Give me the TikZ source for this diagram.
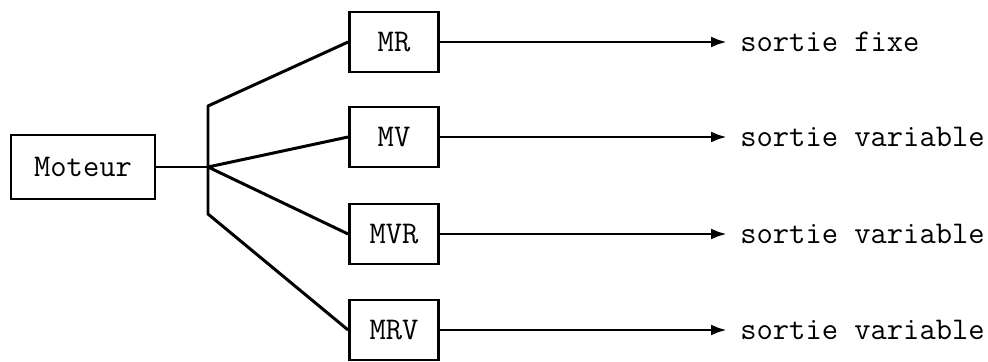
\documentclass[tikz,border=0pt]{standalone}
\usepackage{tikz}
\usetikzlibrary{positioning, arrows.meta}

\begin{document}
\begin{tikzpicture}[x=0.02cm, y=-0.02cm,
    bloc/.style={draw, line width=1.6pt, font=\fontsize{18}{21}\selectfont\ttfamily,
      minimum width=1.78cm, minimum height=1.2cm, inner sep=0pt},
    sortie/.style={anchor=west, font=\fontsize{18}{21}\selectfont\ttfamily, inner sep=0.26cm},
    trait/.style={line width=1.7pt, line join=round},
    fleche/.style={trait, -{Latex[length=3.2mm,width=2.2mm]}}]
  \useasboundingbox (0,0) rectangle (988,362);
  \node[bloc, minimum width=2.88cm, minimum height=1.28cm] (moteur) at (83,167) {Moteur};
  \coordinate (j) at (208,167);
  \coordinate (jh) at (208,106);
  \coordinate (jb) at (208,214);
  \foreach \nom/\y/\genre in {MR/42/fixe, MV/137/variable, MVR/234/variable, MRV/330/variable} {
    \node[bloc] (\nom) at (394,\y) {\nom};
    \node[sortie] (s\nom) at (727,\y) {sortie \genre};
    \draw[fleche] (\nom) -- (s\nom);
  }
  \draw[trait] (moteur) -- (j);
  \draw[trait] (MR.west) -- (jh) -- (jb) -- (MRV.west);
  \draw[trait] (MV.west) -- (j) -- (MVR.west);
\end{tikzpicture}
\end{document}
